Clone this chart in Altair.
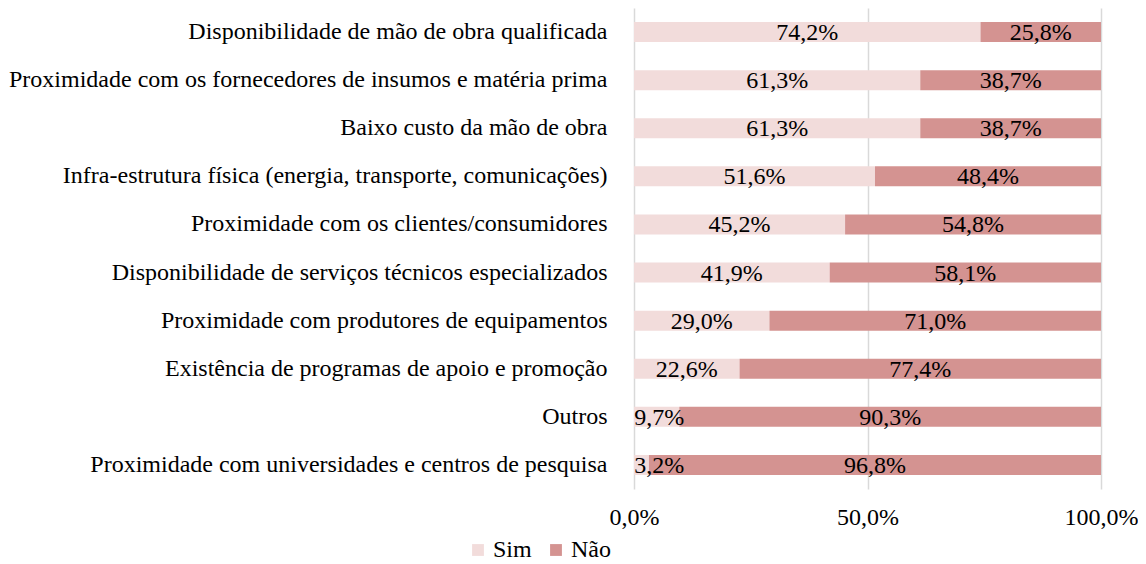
import altair as alt
import pandas as pd

categories = [
    "Disponibilidade de mão de obra qualificada",
    "Proximidade com os fornecedores de insumos e matéria prima",
    "Baixo custo da mão de obra",
    "Infra-estrutura física (energia, transporte, comunicações)",
    "Proximidade com os clientes/consumidores",
    "Disponibilidade de serviços técnicos especializados",
    "Proximidade com produtores de equipamentos",
    "Existência de programas de apoio e promoção",
    "Outros",
    "Proximidade com universidades e centros de pesquisa",
]
sim = [74.2, 61.3, 61.3, 51.6, 45.2, 41.9, 29.0, 22.6, 9.7, 3.2]
nao = [25.8, 38.7, 38.7, 48.4, 54.8, 58.1, 71.0, 77.4, 90.3, 96.8]
series = ["Sim", "Não"]
colors = ["#f2dcdb", "#d49391"]

rows = []
for i, c in enumerate(categories):
    s, n = sim[i], nao[i]
    rows.append({"cat": c, "serie": "Sim", "start": 0, "end": s, "val": s, "ord": 0,
                 "mid": max(s / 2, 5.4)})
    rows.append({"cat": c, "serie": "Não", "start": s, "end": s + n, "val": n, "ord": 1,
                 "mid": s + n / 2})
df = pd.DataFrame(rows)
df["label"] = df["val"].map(lambda v: f"{v:.1f}%".replace(".", ","))

FONT = "Liberation Serif"
FS = 24

y = alt.Y("cat:N", sort=categories, title=None,
          axis=alt.Axis(domain=False, ticks=False, labelFont=FONT, labelFontSize=FS,
                        labelColor="#000000", labelPadding=27, labelLimit=900))

bars = alt.Chart(df).mark_bar(size=20).encode(
    x=alt.X("start:Q", scale=alt.Scale(domain=[0, 100]), title=None,
            axis=alt.Axis(values=[0, 50, 100], labelExpr="replace(format(datum.value, '.1f'), '.', ',') + '%'",
                          domain=False, ticks=False, grid=True, gridColor="#d9d9d9",
                          gridWidth=1.5, labelFont=FONT, labelFontSize=FS,
                          labelFlush=False,
                          labelColor="#000000", labelPadding=16)),
    x2="end:Q",
    y=y,
    color=alt.Color("serie:N", scale=alt.Scale(domain=series, range=colors),
                    title=None,
                    legend=alt.Legend(orient="none", legendX=-168, legendY=530,
                                      direction="horizontal",
                                      symbolType="square", symbolSize=140,
                                      symbolStrokeWidth=0, labelFont=FONT,
                                      labelFontSize=FS, labelColor="#000000",
                                      labelOffset=3, columnPadding=12,
                                      symbolOffset=0)),
    order="ord:Q",
)

text = alt.Chart(df).mark_text(font=FONT, fontSize=FS, color="#000000",
                               baseline="middle", align="center", dy=1).encode(
    x=alt.X("mid:Q", scale=alt.Scale(domain=[0, 100])),
    y=alt.Y("cat:N", sort=categories),
    text="label:N",
)

chart = (bars + text).properties(
    width=467, height=481,
    padding={"left": 0, "top": 0, "right": 0, "bottom": 0},
).configure_view(stroke=None).configure_scale(bandPaddingInner=0.58)

chart.save("out.html", embed_options={"renderer": "svg", "actions": False})
